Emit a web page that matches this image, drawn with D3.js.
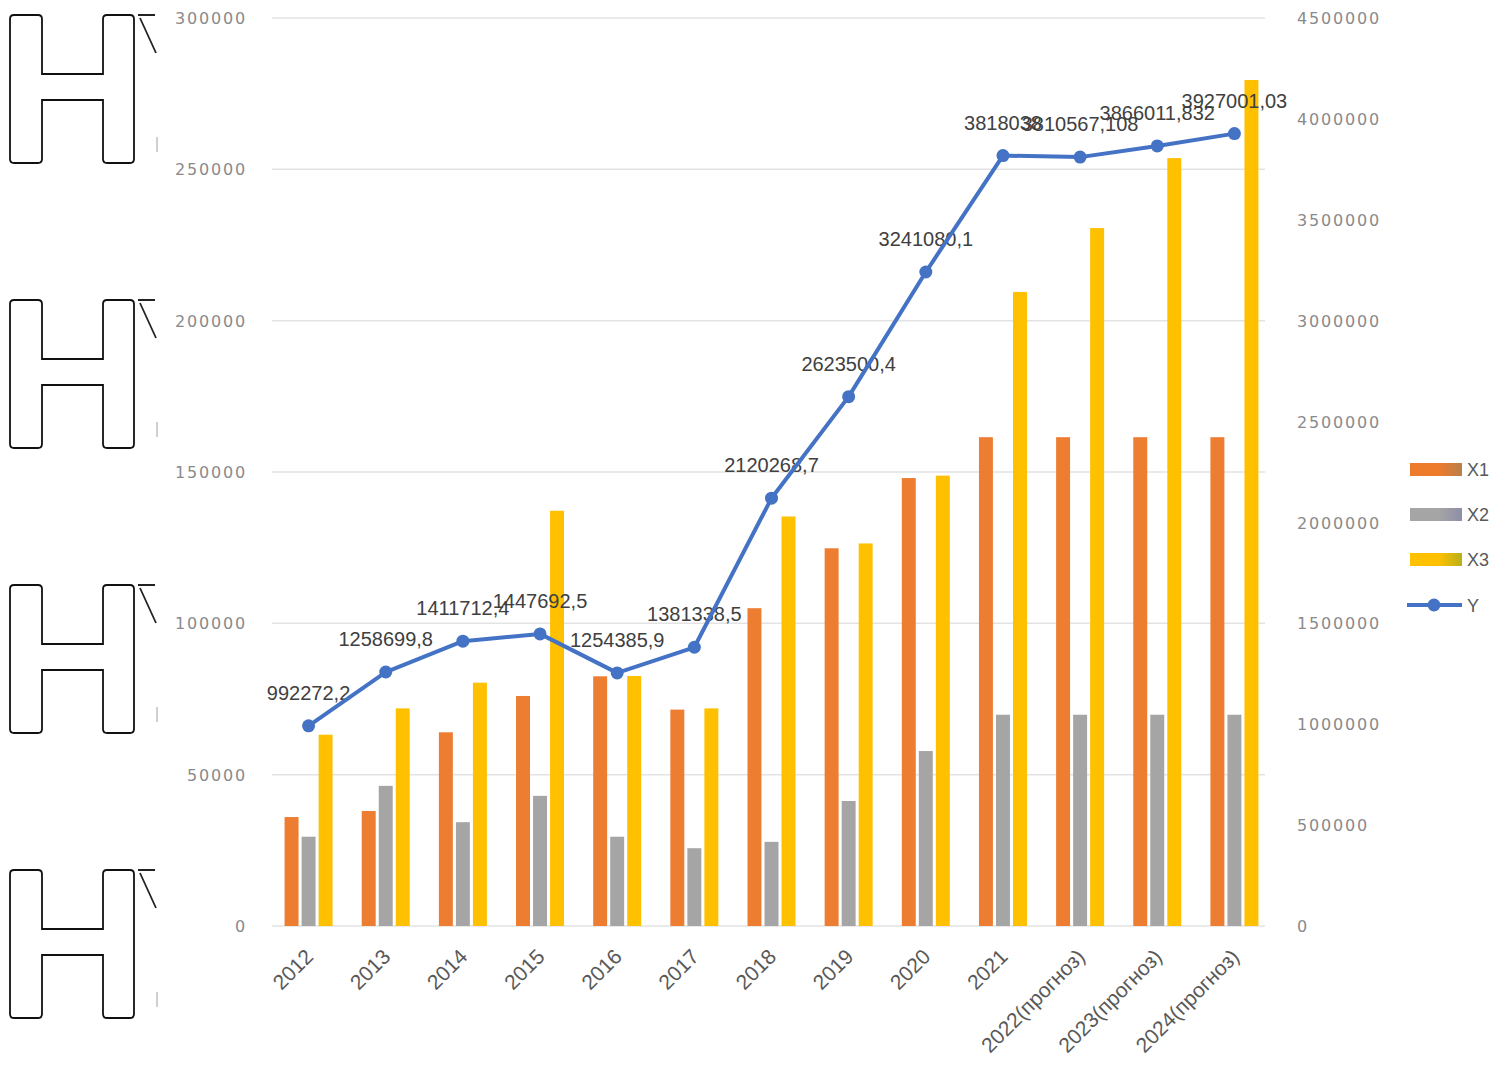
<!DOCTYPE html>
<html><head><meta charset="utf-8">
<script src="https://cdn.jsdelivr.net/npm/d3@7"></script>
<style>body{margin:0;background:#fff}svg{display:block}</style>
</head><body>
<svg id="c" width="1495" height="1066"></svg>
<script>
const categories = ["2012","2013","2014","2015","2016","2017","2018","2019","2020","2021","2022(прогноз)","2023(прогноз)","2024(прогноз)"];
const seriesNames = ["X1","X2","X3"];
const X1 = [36000,38000,64000,76000,82500,71500,105000,124800,148000,161500,161500,161500,161500];
const X2 = [29500,46300,34300,43000,29500,25700,27800,41300,57800,69800,69800,69800,69800];
const X3 = [63200,71900,80400,137200,82600,71900,135300,126400,148800,209500,230600,253700,279500];
const Y  = [992272.2,1258699.8,1411712.4,1447692.5,1254385.9,1381338.5,2120268.7,2623500.4,3241080.1,3818038,3810567.108,3866011.832,3927001.03];
const leftTicks = [0,50000,100000,150000,200000,250000,300000];
const rightTicks = [0,500000,1000000,1500000,2000000,2500000,3000000,3500000,4000000,4500000];
const colors = {X1:"#ED7D31", X2:"#A5A5A5", X3:"#FFC000", Y:"#4472C4"};

const svg = d3.select("#c");
const x = d3.scaleBand().domain(categories).range([270,1273]).padding(0);
const xs = d3.scaleBand().domain(seriesNames).range([-24,24]).paddingInner(0.18);
const yL = d3.scaleLinear().domain([0,300000]).range([926,18]);
const yR = d3.scaleLinear().domain([0,4500000]).range([926,18]);
const cx = c => x(c) + x.bandwidth()/2;

const defs = svg.append("defs");
const grads = {X1:["#EE7A2C","#B8804A"], X2:["#A5A5A5","#8E8EA8"], X3:["#FFC000","#B8B01A"]};
Object.entries(grads).forEach(([k,[a,b]])=>{
  const g = defs.append("linearGradient").attr("id","g"+k);
  g.append("stop").attr("offset","0%").attr("stop-color",a);
  g.append("stop").attr("offset","55%").attr("stop-color",a);
  g.append("stop").attr("offset","100%").attr("stop-color",b);
});

// gridlines
svg.append("g").selectAll("line").data(leftTicks).join("line")
  .attr("x1",272).attr("x2",1265).attr("y1",d=>yL(d)).attr("y2",d=>yL(d))
  .attr("stroke","#e3e3e3").attr("stroke-width",1.5);

// left axis
const axL = svg.append("g").attr("transform","translate(247,0)")
  .call(d3.axisLeft(yL).tickValues(leftTicks).tickSize(0).tickPadding(0).tickFormat(d3.format("d")));
axL.select(".domain").remove();
axL.selectAll("text").attr("font-family","DejaVu Sans").attr("font-size",16).attr("letter-spacing","1.8px").attr("fill","#8a8a8a").attr("dy","0.35em");

// right axis
const axR = svg.append("g").attr("transform","translate(1297,0)")
  .call(d3.axisRight(yR).tickValues(rightTicks).tickSize(0).tickPadding(0).tickFormat(d3.format("d")));
axR.select(".domain").remove();
axR.selectAll("text").attr("font-family","DejaVu Sans").attr("font-size",16).attr("letter-spacing","1.8px").attr("fill","#8a8a8a").attr("dy","0.35em");

// bars
const series = {X1, X2, X3};
seriesNames.forEach(s=>{
  svg.append("g").selectAll("rect").data(categories).join("rect")
    .attr("x",(c)=>cx(c)+xs(s)).attr("width",xs.bandwidth())
    .attr("y",(c,i)=>yL(series[s][i])).attr("height",(c,i)=>yL(0)-yL(series[s][i]))
    .attr("fill",colors[s]);
});

// x axis labels
const axX = svg.append("g").attr("transform","translate(0,926)")
  .call(d3.axisBottom(x).tickSize(0).tickPadding(0));
axX.select(".domain").remove();
axX.selectAll("text")
  .attr("font-family","Liberation Sans").attr("font-size",21).attr("fill","#595959")
  .attr("text-anchor","end").attr("dy",null).attr("y",0)
  .attr("transform","translate(6,32) rotate(-45)");

// data labels
svg.append("g").selectAll("text").data(categories).join("text")
  .attr("x",c=>cx(c)).attr("y",(c,i)=>yR(Y[i])-26)
  .attr("text-anchor","middle").attr("font-family","Liberation Sans").attr("font-size",20)
  .attr("fill","#404040").text((c,i)=>String(Y[i]).replace(".",","));

// line
svg.append("path").datum(Y)
  .attr("d",d3.line().x((d,i)=>cx(categories[i])).y(d=>yR(d)))
  .attr("fill","none").attr("stroke",colors.Y).attr("stroke-width",4).attr("stroke-linejoin","round");
svg.append("g").selectAll("circle").data(Y).join("circle")
  .attr("cx",(d,i)=>cx(categories[i])).attr("cy",d=>yR(d)).attr("r",6.5).attr("fill",colors.Y);

// legend
const lg = svg.append("g");
["X1","X2","X3"].forEach((s,i)=>{
  const yy = 463 + i*45;
  lg.append("rect").attr("x",1410).attr("y",yy).attr("width",52).attr("height",13).attr("fill","url(#g"+s+")");
  lg.append("text").attr("x",1467).attr("y",yy+13).attr("font-family","Liberation Sans").attr("font-size",18).attr("fill","#595959").text(s);
});
lg.append("line").attr("x1",1407).attr("x2",1462).attr("y1",605).attr("y2",605).attr("stroke",colors.Y).attr("stroke-width",4);
lg.append("circle").attr("cx",1434).attr("cy",605).attr("r",6.5).attr("fill",colors.Y);
lg.append("text").attr("x",1467).attr("y",612).attr("font-family","Liberation Sans").attr("font-size",18).attr("fill","#595959").text("Y");

// left-side glyph outlines (as in the picture)
const hTops = [15,300,585,870];
const hPath = T => `M10,${T+144} L10,${T+4} Q10,${T} 14,${T} L38,${T} Q42,${T} 42,${T+4} L42,${T+59} L103,${T+59} L103,${T+4} Q103,${T} 107,${T} L130,${T} Q134,${T} 134,${T+4} L134,${T+144} Q134,${T+148} 130,${T+148} L107,${T+148} Q103,${T+148} 103,${T+144} L103,${T+85} L42,${T+85} L42,${T+144} Q42,${T+148} 38,${T+148} L14,${T+148} Q10,${T+148} 10,${T+144} Z`;
const gh = svg.append("g");
gh.selectAll("path.h").data(hTops).join("path").attr("class","h").attr("d",hPath)
  .attr("fill","none").attr("stroke","#111").attr("stroke-width",1.8);
gh.selectAll("path.s").data(hTops).join("path").attr("class","s")
  .attr("d",T=>`M138,${T} L155,${T} M140,${T+3} L156,${T+38}`)
  .attr("fill","none").attr("stroke","#222").attr("stroke-width",1.8);
gh.selectAll("line").data(hTops).join("line")
  .attr("x1",157).attr("x2",157).attr("y1",T=>T+122).attr("y2",T=>T+137)
  .attr("stroke","#d0d0d0").attr("stroke-width",2);
</script>
</body></html>
